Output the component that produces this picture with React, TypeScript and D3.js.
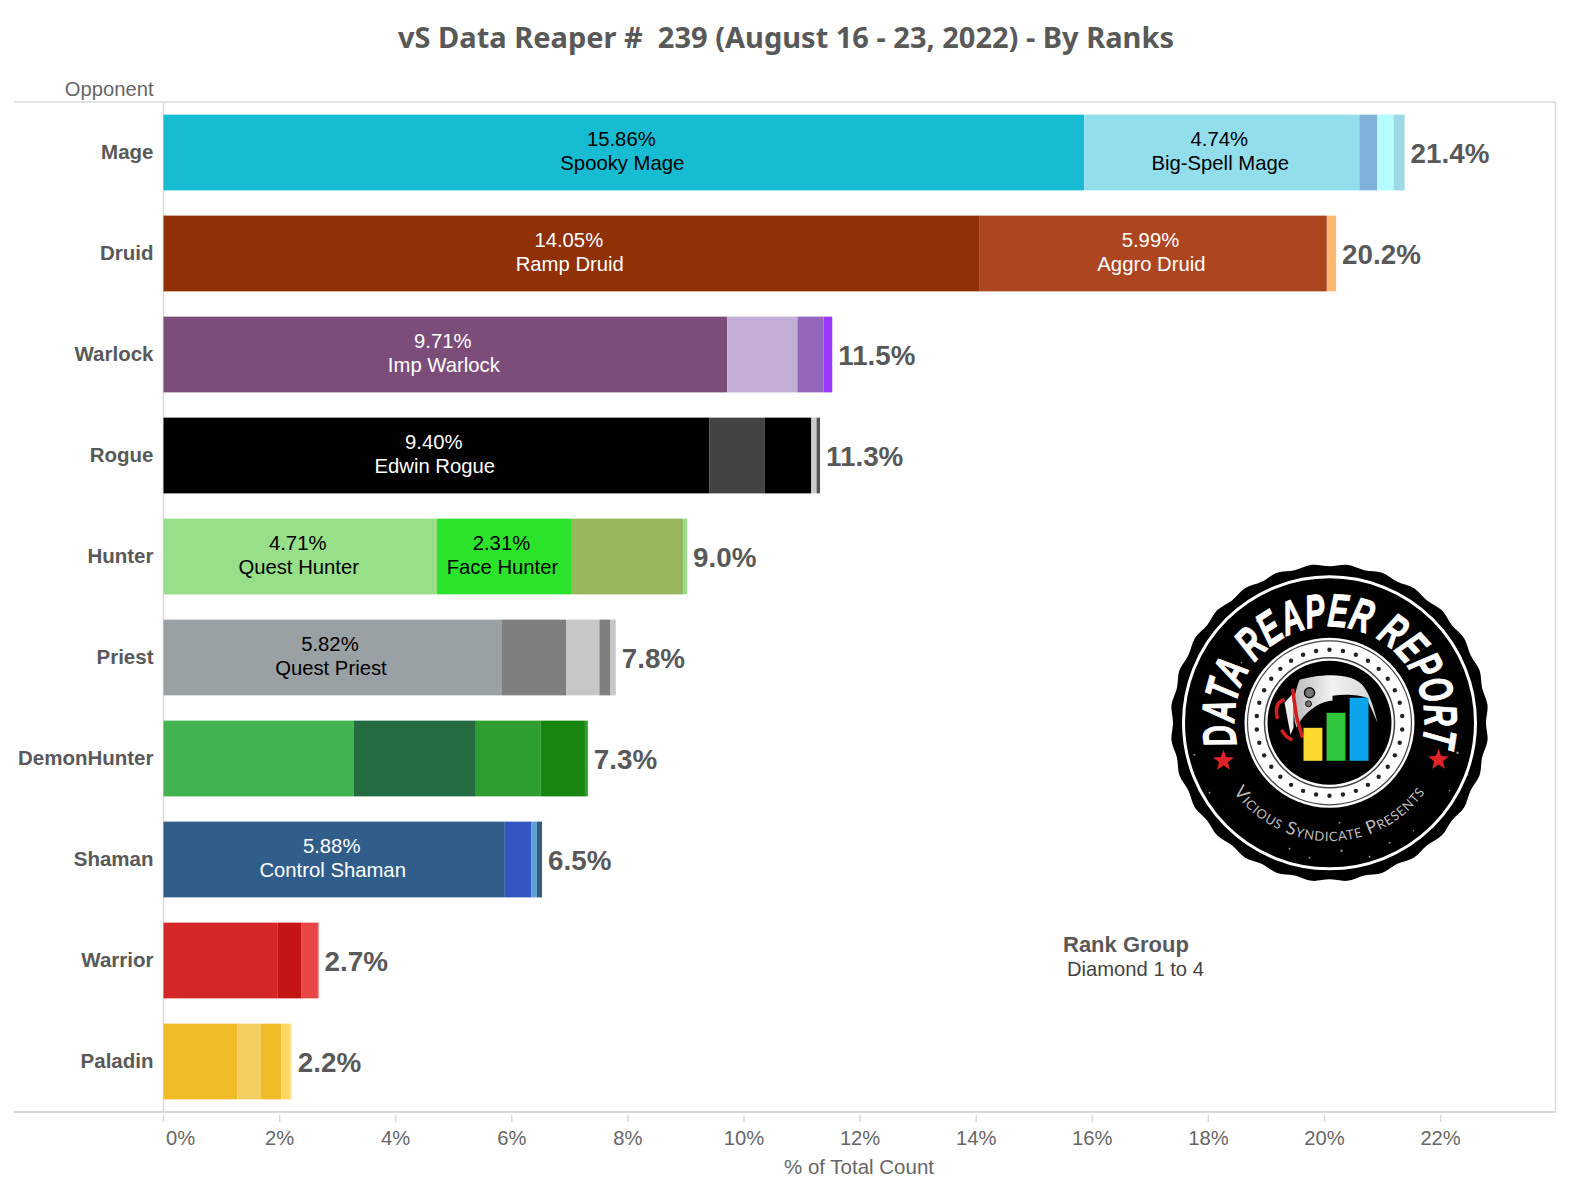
import { scaleLinear, scaleBand, cumsum, range, lineRadial, curveCatmullRomClosed } from "d3";

const categories = ["Mage", "Druid", "Warlock", "Rogue", "Hunter", "Priest", "DemonHunter", "Shaman", "Warrior", "Paladin"];
const totals = [21.4, 20.2, 11.5, 11.3, 9.0, 7.8, 7.3, 6.5, 2.7, 2.2];

// share of each archetype
const mage = [15.86, 4.74, 0.31, 0.28, 0.19];
const druid = [14.05, 5.99, 0.16];
const warlock = [9.71, 1.21, 0.45, 0.15];
const rogue = [9.4, 0.96, 0.8, 0.09, 0.06];
const hunter = [4.71, 2.31, 1.93, 0.07];
const priest = [5.82, 1.12, 0.57, 0.19, 0.09];
const demonHunter = [3.28, 2.1, 1.12, 0.76, 0.05];
const shaman = [5.88, 0.46, 0.09, 0.09];
const warrior = [1.96, 0.42, 0.27, 0.02];
const paladin = [1.27, 0.41, 0.35, 0.16, 0.02];
const shares = [mage, druid, warlock, rogue, hunter, priest, demonHunter, shaman, warrior, paladin];

const mageColors = ["#18bcd2", "#92deec", "#80b1d9", "#b5fcff", "#9dd9e5"];
const druidColors = ["#8f3007", "#ad4520", "#fdb874"];
const warlockColors = ["#7c4d79", "#c3aed6", "#9467bd", "#9a3aff"];
const rogueColors = ["#000000", "#434343", "#000000", "#cccccc", "#555555"];
const hunterColors = ["#98df8a", "#2ce32c", "#97b85c", "#98df8a"];
const priestColors = ["#9aa1a4", "#7f7f7f", "#c7c7c7", "#7f7f7f", "#c7c7c7"];
const demonHunterColors = ["#41b350", "#246b41", "#2d9e2f", "#17850f", "#2ca02c"];
const shamanColors = ["#305d89", "#3355c0", "#5ba0d0", "#305d89"];
const warriorColors = ["#d62728", "#c41414", "#e84545", "#d62728"];
const paladinColors = ["#f0bb26", "#f2cf60", "#f0bb26", "#ffd966", "#fff176"];
const colors = [mageColors, druidColors, warlockColors, rogueColors, hunterColors, priestColors, demonHunterColors, shamanColors, warriorColors, paladinColors];

// [class index, segment index, name, text colour]
const segmentLabels: [number, number, string, string][] = [
  [0, 0, "Spooky Mage", "#000"],
  [0, 1, "Big-Spell Mage", "#000"],
  [1, 0, "Ramp Druid", "#fff"],
  [1, 1, "Aggro Druid", "#fff"],
  [2, 0, "Imp Warlock", "#fff"],
  [3, 0, "Edwin Rogue", "#fff"],
  [4, 0, "Quest Hunter", "#000"],
  [4, 1, "Face Hunter", "#000"],
  [5, 0, "Quest Priest", "#000"],
  [7, 0, "Control Shaman", "#fff"],
];

const xTicks = [0, 2, 4, 6, 8, 10, 12, 14, 16, 18, 20, 22];

const sans = "'Liberation Sans', Arial, sans-serif";
const gridColor = "#d9d9d9";
const textGrey = "#595959";

const left = 163.5;
const right = 1555.5;
const top = 102;
const bottom = 1112;

const x = scaleLinear().domain([0, 24]).range([left, left + 24 * 58.05]);
const y = scaleBand<string>().domain(categories).range([top, bottom]).paddingInner(0.25).paddingOuter(0.125);

function star(r: number) {
  const pts = range(10).map((i) => {
    const a = (i * Math.PI) / 5 - Math.PI / 2;
    const rr = i % 2 ? r * 0.42 : r;
    return `${rr * Math.cos(a)},${rr * Math.sin(a)}`;
  });
  return pts.join(" ");
}

// worn spots on the stamp
const specks = [
  [-72, -102, 3], [-64, -110, 2], [90, -86, 2], [128, 30, 2.5], [138, 52, 2], [-135, 32, 2], [-40, 126, 2], [10, 100, 2],
  [12, 128, 2.5], [60, 120, 2], [84, 108, 1.5], [-88, -60, 1.5], [-120, 70, 2], [40, 134, 2], [-20, 135, 2], [120, 68, 1.5],
];

// the round stamp in the lower right corner
function Logo() {
  const edge = lineRadial<number>()
    .angle((i) => (i * Math.PI * 2) / 56)
    .radius((i) => (i % 2 ? 159 : 156.5))
    .curve(curveCatmullRomClosed);
  const dots = range(34).map((i) => (i * Math.PI * 2) / 34);
  const barX = scaleBand<number>().domain([0, 1, 2]).range([-26, 39]).paddingInner(0.18);
  const barH = [33, 48, 63];
  const barColors = ["#fdd92e", "#2fc53c", "#0ba5ec"];
  return (
    <g transform="translate(1329.5,722.8)">
      <defs>
        <path id="logo-top" d="M -93 18 A 95 95 0 1 1 93 18" />
        <path id="logo-bottom" d="M -107 50 A 118 118 0 0 0 107 50" />
        <linearGradient id="blade" x1="0" x2="1" y1="0" y2="0">
          <stop offset="0" stopColor="#b9b9b9" />
          <stop offset="0.45" stopColor="#f2f2f2" />
          <stop offset="1" stopColor="#d4d4d4" />
        </linearGradient>
      </defs>
      <path d={edge(range(56)) ?? ""} fill="#000" />
      <circle r={146} fill="none" stroke="#fff" strokeWidth={3} />
      <text fontFamily={sans} fontWeight="bold" fontStyle="italic" fontSize={47} fill="#fff" stroke="#fff" strokeWidth={0.9}>
        <textPath href="#logo-top" startOffset="50%" textAnchor="middle" textLength={345} lengthAdjust="spacingAndGlyphs">
          DATA REAPER REPORT
        </textPath>
      </text>
      <text fontFamily="Lato, sans-serif" fontSize={18} letterSpacing={0.8} fill="#bdbdbd" style={{ fontVariant: "small-caps" }}>
        <textPath href="#logo-bottom" startOffset="50%" textAnchor="middle">
          Vicious Syndicate Presents
        </textPath>
      </text>
      <polygon points={star(11)} transform="translate(-106,38)" fill="#e02127" />
      <polygon points={star(11)} transform="translate(109,37)" fill="#e02127" />
      {specks.map(([sx, sy, r], i) => (
        <circle key={i} cx={sx} cy={sy} r={r / 2} fill="#fff" opacity={0.55} />
      ))}
      <circle r={85} fill="#fff" />
      <circle r={82} fill="none" stroke="#444" strokeWidth={1.2} />
      {dots.map((a, i) => (
        <circle key={i} cx={73 * Math.sin(a)} cy={-73 * Math.cos(a)} r={2.2} fill="#222" />
      ))}
      <circle r={65} fill="none" stroke="#444" strokeWidth={1.5} />
      <circle r={62} fill="#000" />
      <path
        d="M -30 -43 C -15 -48 25 -53 35 -35 C 42 -25 46 -8 48 0 L 37 -25 C 30 -28 15 -29 3 -27 L 3 -22 C -8 -22 -25 -12 -33 5 C -38 -10 -36 -28 -30 -43 Z"
        fill="url(#blade)"
      />
      <path d="M -45 -20 L -36 -30 L -36 5 L -39 12 Z" fill="#eee" />
      <circle cx={-20} cy={-30} r={5} fill="#777" stroke="#111" strokeWidth={1.5} />
      <circle cx={-21} cy={-19} r={3} fill="#777" stroke="#111" strokeWidth={1} />
      <path d="M -37 -34 L -33 -6 L -27 15" fill="none" stroke="#d11f1f" strokeWidth={3.5} />
      <path d="M -45 -23 C -56 -20 -53 -8 -52 -4 M -48 7 C -44 14 -40 16 -37 17" fill="none" stroke="#d11f1f" strokeWidth={3.5} />
      {barH.map((h, i) => (
        <rect key={i} x={barX(i)} y={38 - h} width={barX.bandwidth()} height={h} fill={barColors[i]} />
      ))}
    </g>
  );
}

export default function App() {
  return (
    <svg width={1570} height={1200} style={{ position: "absolute", left: 0, top: 0, display: "block", background: "#fff" }}>
      <text x={786} y={48} textAnchor="middle" fontFamily="'Noto Sans', sans-serif" fontWeight="bold" fontSize={29} fill={textGrey} style={{ whiteSpace: "pre" }}>
        {"vS Data Reaper #  239 (August 16 - 23, 2022) - By Ranks"}
      </text>

      {/* frame */}
      <line x1={14} x2={right} y1={top} y2={top} stroke={gridColor} strokeWidth={1.5} />
      <line x1={14} x2={right} y1={bottom} y2={bottom} stroke={gridColor} strokeWidth={2} />
      <line x1={right} x2={right} y1={top} y2={bottom} stroke={gridColor} strokeWidth={1.5} />
      <line x1={left} x2={left} y1={top} y2={bottom} stroke={gridColor} strokeWidth={1.5} />

      <text x={153.5} y={96} textAnchor="end" fontFamily={sans} fontSize={20.2} fill="#666">
        Opponent
      </text>

      {categories.map((c, i) => {
        const ends = Array.from(cumsum(shares[i]));
        const mid = (y(c) ?? 0) + y.bandwidth() / 2;
        return (
          <g key={c}>
            <text x={153.5} y={mid + 6} textAnchor="end" fontFamily={sans} fontWeight="bold" fontSize={20.5} fill={textGrey}>
              {c}
            </text>
            {shares[i].map((v, j) => (
              <rect key={j} x={x(ends[j] - v)} y={y(c)} width={x(ends[j]) - x(ends[j] - v)} height={y.bandwidth()} fill={colors[i][j]} />
            ))}
            <text x={x(ends[ends.length - 1]) + 6} y={mid + 10.5} fontFamily={sans} fontWeight="bold" fontSize={27.8} fill={textGrey}>
              {totals[i].toFixed(1)}%
            </text>
          </g>
        );
      })}

      {segmentLabels.map(([ci, si, name, fill]) => {
        const c = categories[ci];
        const ends = Array.from(cumsum(shares[ci]));
        const v = shares[ci][si];
        const cx = (x(ends[si] - v) + x(ends[si])) / 2 - 1.5;
        const mid = (y(c) ?? 0) + y.bandwidth() / 2;
        return (
          <text key={name} textAnchor="middle" fontFamily={sans} fontSize={20.3} fill={fill}>
            <tspan x={cx - 1} y={mid - 7}>{v.toFixed(2)}%</tspan>
            <tspan x={cx} y={mid + 17}>{name}</tspan>
          </text>
        );
      })}

      {/* x axis */}
      {xTicks.map((t, i) => (
        <g key={t}>
          <line x1={x(t)} x2={x(t)} y1={bottom + 3} y2={bottom + 10} stroke={gridColor} strokeWidth={1.5} />
          <text x={i === 0 ? x(t) + 17 : x(t)} y={1145} textAnchor="middle" fontFamily={sans} fontSize={20.2} fill="#666">
            {t}%
          </text>
        </g>
      ))}
      <text x={859} y={1174} textAnchor="middle" fontFamily={sans} fontSize={20.5} fill="#666">
        % of Total Count
      </text>

      <text x={1063} y={952} fontFamily={sans} fontWeight="bold" fontSize={22} fill={textGrey}>
        Rank Group
      </text>
      <text x={1067} y={976} fontFamily={sans} fontSize={20.2} fill="#444">
        Diamond 1 to 4
      </text>

      <Logo />
    </svg>
  );
}
